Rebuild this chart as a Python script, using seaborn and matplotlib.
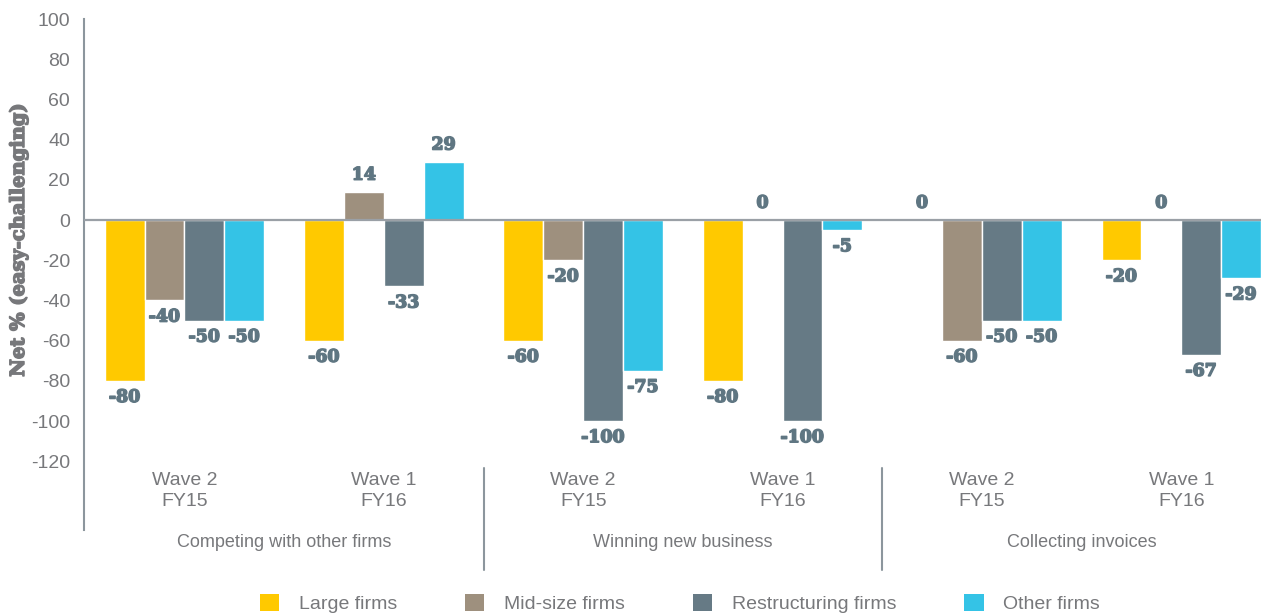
import matplotlib
matplotlib.use("Agg")
import matplotlib.pyplot as plt
import matplotlib.patches as mpatches
import matplotlib.patheffects as pe
import numpy as np
import pandas as pd
import seaborn as sns

# ---- data -------------------------------------------------------------
categories = ["Competing with other firms", "Winning new business", "Collecting invoices"]
periods = ["Wave 2\nFY15", "Wave 1\nFY16"]
segments = ["Large firms", "Mid-size firms", "Restructuring firms", "Other firms"]

# one list per segment, ordered category-by-category, Wave 2 FY15 then Wave 1 FY16
large_firms = [-80, -60, -60, -80, 0, -20]
midsize_firms = [-40, 14, -20, 0, -60, 0]
restructuring_firms = [-50, -33, -100, -100, -50, -67]
other_firms = [-50, 29, -75, -5, -50, -29]

yticks = list(range(-120, 101, 20))

colors = ["#FFC900", "#9E907E", "#667A85", "#34C3E6"]
text_grey = "#77787B"
label_col = "#5F7682"

# ---- tidy frame ---------------------------------------------------------
slots = [f"{c}|{p}" for c in categories for p in periods]
series = [large_firms, midsize_firms, restructuring_firms, other_firms]
rows = []
for seg, vals in zip(segments, series):
    for slot, v in zip(slots, vals):
        rows.append({"slot": slot, "segment": seg, "value": v})
df = pd.DataFrame(rows)

# ---- figure -------------------------------------------------------------
sns.set_theme(style="white")
plt.rcParams["font.family"] = ["Liberation Sans", "DejaVu Sans"]
plt.rcParams["axes.unicode_minus"] = False

fig = plt.figure(figsize=(12.61, 6.14), dpi=100)
ax = fig.add_axes([84 / 1261, 1 - 530 / 614, 1 - 84 / 1261, (530 - 19) / 614])

sns.barplot(data=df, x="slot", y="value", hue="segment", order=slots,
            hue_order=segments, palette=colors, width=0.8, saturation=1,
            errorbar=None, legend=False, ax=ax)

ax.set_ylim(-154.2, 100)
ax.set_xlim(-0.504, 5.40)
ax.set_yticks(yticks)
ax.set_yticklabels([str(t) for t in yticks])
ax.tick_params(axis="y", length=0, pad=10, labelsize=14, labelcolor=text_grey)
ax.set_xticks([])
ax.set_xlabel("")

heavy = [pe.withStroke(linewidth=1.1, foreground=label_col)]
ylab = ax.set_ylabel("Net % (easy-challenging)", family="DejaVu Serif", weight="bold",
                     fontsize=14, color=text_grey)
ylab.set_path_effects([pe.withStroke(linewidth=1.1, foreground=text_grey)])
ax.yaxis.set_label_coords((28 - 84) / 1177, (530 - 240) / 511)

for side in ("top", "right", "bottom"):
    ax.spines[side].set_visible(False)
ax.spines["left"].set_color("#8C969D")
ax.spines["left"].set_linewidth(1.5)
ax.axhline(0, color="#9AA0A6", lw=1.6, zorder=5)

# value labels on every bar
for cont, vals in zip(ax.containers, series):
    for patch, v in zip(cont.patches, vals):
        xc = patch.get_x() + patch.get_width() / 2
        off = 12 if v >= 0 else -12
        ax.annotate(str(v), (xc, v), xytext=(0, off), textcoords="offset points",
                    ha="center", va="center", family="DejaVu Serif",
                    weight="bold", fontsize=12.5, color=label_col,
                    path_effects=heavy)

# period and category labels under the axis
for i, slot in enumerate(slots):
    ax.text(i, -134.8, slot.split("|")[1], ha="center", va="center",
            fontsize=14, color=text_grey, linespacing=1.35)
for j, cat in enumerate(categories):
    ax.text(2 * j + 0.5, -160.2, cat, ha="center", va="center",
            fontsize=13, color=text_grey, clip_on=False)
for xb in (1.5, 3.5):
    ax.plot([xb, xb], [-123.4, -174], color="#8C969D", lw=1.5, clip_on=False)

# legend
handles = [mpatches.Patch(facecolor=c, edgecolor="none", label=s)
           for c, s in zip(colors, segments)]
leg = fig.legend(handles=handles, loc="center", bbox_to_anchor=(0.539, 0.017),
                 ncol=4, frameon=False, fontsize=14, handlelength=1.0,
                 handleheight=1.0, handletextpad=1.0, columnspacing=3.5,
                 borderpad=0)
for t in leg.get_texts():
    t.set_color(text_grey)

fig.savefig("out.png", dpi=100)
